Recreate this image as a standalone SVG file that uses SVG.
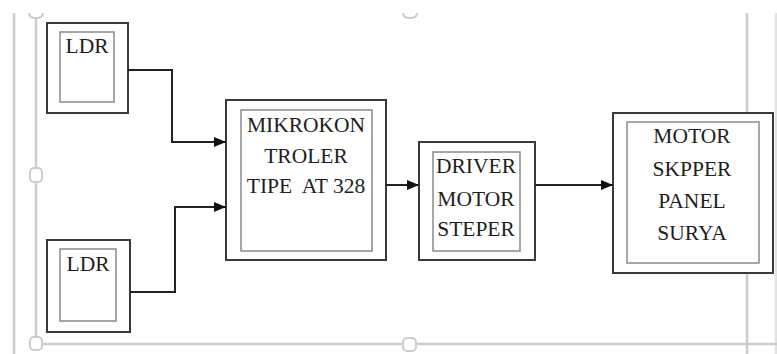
<svg xmlns="http://www.w3.org/2000/svg" width="777" height="354" viewBox="0 0 777 354">
<defs>
<style>
.frame{stroke:#cdcdcd;stroke-width:2.5;fill:none}
.handle{stroke:#cdcdcd;stroke-width:2;fill:#fff}
.outer{stroke:#3a3a3a;stroke-width:2;fill:#fff}
.inner{stroke:#8a8a8a;stroke-width:1.5;fill:#fff}
text.lbl{font-family:'Liberation Serif','DejaVu Serif',serif;font-size:21.5px;fill:#1e1e1e;text-anchor:middle}
.conn{stroke:#222;stroke-width:2;fill:none}
</style>
<marker id="arr" markerUnits="userSpaceOnUse" markerWidth="12" markerHeight="10" viewBox="0 0 12 10" refX="12" refY="5" orient="auto">
<path d="M0,0 L12,5 L0,10 Z" fill="#111"/>
</marker>
</defs>
<rect width="777" height="354" fill="#fff"/>
<g id="frame">
<line class="frame" x1="14" y1="13" x2="14" y2="354"/>
<line class="frame" x1="36" y1="13" x2="36" y2="337"/>
<line class="frame" x1="42" y1="344" x2="777" y2="344"/>
<line class="frame" x1="747" y1="13" x2="747" y2="354"/>
<line class="frame" x1="776" y1="13" x2="776" y2="354" stroke-opacity="0.6"/>
<path class="handle" d="M29,13 Q29,18 36,18 Q43,18 43,13"/>
<path class="handle" d="M403,13 Q403,18 410,18 Q417,18 417,13"/>
<rect class="handle" x="30" y="168" width="12" height="14" rx="4"/>
<rect class="handle" x="30" y="337" width="12" height="13" rx="4"/>
<rect class="handle" x="403" y="338" width="13" height="13" rx="4"/>
</g>
<g id="ldr1">
<rect class="outer" x="47" y="23" width="81" height="90"/>
<rect class="inner" x="60" y="32" width="54" height="70"/>
<text class="lbl" x="87" y="53" font-family="Liberation Serif">LDR</text>
</g>
<g id="ldr2">
<rect class="outer" x="47" y="240" width="83" height="92"/>
<rect class="inner" x="60" y="249" width="56" height="72"/>
<text class="lbl" x="88" y="271" font-family="Liberation Serif">LDR</text>
</g>
<g id="mikrokontroler">
<rect class="outer" x="226" y="100" width="160" height="160"/>
<rect class="inner" x="241" y="110" width="131" height="141"/>
<text class="lbl" x="306" y="132" font-family="Liberation Serif">MIKROKON</text>
<text class="lbl" x="306" y="163" font-family="Liberation Serif">TROLER</text>
<text class="lbl" x="306" y="193" font-family="Liberation Serif" xml:space="preserve">TIPE  AT 328</text>
</g>
<g id="driver">
<rect class="outer" x="419" y="142" width="116" height="118"/>
<rect class="inner" x="433" y="152" width="87" height="99"/>
<text class="lbl" x="476" y="173" font-family="Liberation Serif">DRIVER</text>
<text class="lbl" x="476" y="206" font-family="Liberation Serif">MOTOR</text>
<text class="lbl" x="476" y="236" font-family="Liberation Serif">STEPER</text>
</g>
<g id="motor">
<rect class="outer" x="613" y="113" width="160" height="160"/>
<rect class="inner" x="627" y="122" width="132" height="141"/>
<text class="lbl" x="692" y="143" font-family="Liberation Serif">MOTOR</text>
<text class="lbl" x="692" y="176" font-family="Liberation Serif">SKPPER</text>
<text class="lbl" x="692" y="208" font-family="Liberation Serif">PANEL</text>
<text class="lbl" x="692" y="240" font-family="Liberation Serif">SURYA</text>
</g>
<g id="connectors">
<path class="conn" d="M128,70 H172 V142 H226" marker-end="url(#arr)"/>
<path class="conn" d="M130,292 H175 V207 H226" marker-end="url(#arr)"/>
<path class="conn" d="M386,185 H419" marker-end="url(#arr)"/>
<path class="conn" d="M535,185 H613" marker-end="url(#arr)"/>
</g>
</svg>
